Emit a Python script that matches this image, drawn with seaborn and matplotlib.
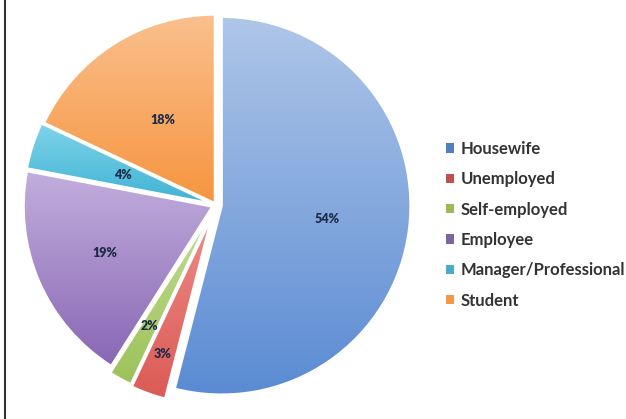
import numpy as np
import matplotlib
matplotlib.use("Agg")
import matplotlib.pyplot as plt
import seaborn as sns
from matplotlib.colors import LinearSegmentedColormap
from matplotlib.patches import Patch
from matplotlib.lines import Line2D

# data
categories = ["Housewife", "Unemployed", "Self-employed", "Employee",
              "Manager/Professional", "Student"]
shares = [54, 3, 2, 19, 4, 18]

# styling
base_colors = ["#4F81BD", "#C0504D", "#9BBB59", "#8064A2", "#4BACC6", "#F79646"]
top_colors = ["#AFC6E8", "#EC8C88", "#C3DC92", "#C2AEDD", "#7FD3EA", "#FAC08E"]
bottom_colors = ["#5A8BD3", "#DC5A55", "#9CC25A", "#8867B4", "#3FB3D3", "#F6953F"]
explode = [0.03, 0.06, 0.05, 0.02, 0.02, 0.01]
label_dist = [0.56, 0.78, 0.68, 0.62, 0.50, 0.52]

sns.set_theme(style="white")
plt.rcParams["font.family"] = ["Lato", "DejaVu Sans"]

W, H = 626, 419
fig = plt.figure(figsize=(W / 100, H / 100), dpi=100)
R = 189
cx, cy = 216, 205
lim = 1.1
side = 2 * lim * R
ax = fig.add_axes([(cx - side / 2) / W, (H - cy - side / 2) / H, side / W, side / H])

wedges, _ = ax.pie(shares, startangle=90, counterclock=False, explode=explode,
                   colors=base_colors, radius=1,
                   wedgeprops=dict(edgecolor="white", linewidth=1.8))

# vertical gradient fill per slice, like the original spreadsheet chart
grad = np.linspace(0, 1, 256).reshape(-1, 1)
for w, c_top, c_bot in zip(wedges, top_colors, bottom_colors):
    ext = w.get_path().transformed(w.get_patch_transform()).get_extents()
    cmap = LinearSegmentedColormap.from_list("g", [c_bot, c_top])
    im = ax.imshow(grad, extent=[ext.x0, ext.x1, ext.y0, ext.y1], origin="lower",
                   cmap=cmap, aspect="auto", zorder=w.get_zorder() - 0.1,
                   interpolation="bilinear")
    im.set_clip_path(w)
    w.set_facecolor("none")

# percentage labels
for w, val, d in zip(wedges, shares, label_dist):
    mid = np.deg2rad((w.theta1 + w.theta2) / 2)
    x = w.center[0] + d * np.cos(mid)
    y = w.center[1] + d * np.sin(mid)
    ax.text(x, y, f"{val}%", ha="center", va="center", fontsize=9,
            fontweight="heavy", color="#1E2B48", zorder=5)

ax.set_xlim(-lim, lim)
ax.set_ylim(-lim, lim)
ax.set_aspect("equal")
ax.axis("off")

handles = [Patch(facecolor=c, edgecolor="none") for c in base_colors]
leg = fig.legend(handles, categories, loc="upper left",
                 bbox_to_anchor=(431 / W, 1 - 126 / H), frameon=False,
                 handlelength=0.5, handleheight=0.5, handletextpad=0.4,
                 labelspacing=0.86, fontsize=12)
for t in leg.get_texts():
    t.set_color("#333333")
    t.set_fontweight("bold")

fig.add_artist(Line2D([5 / W, 5 / W], [0, 1], transform=fig.transFigure,
                      color="#333333", linewidth=1.5))

fig.savefig("out.png", dpi=100, facecolor="white")
